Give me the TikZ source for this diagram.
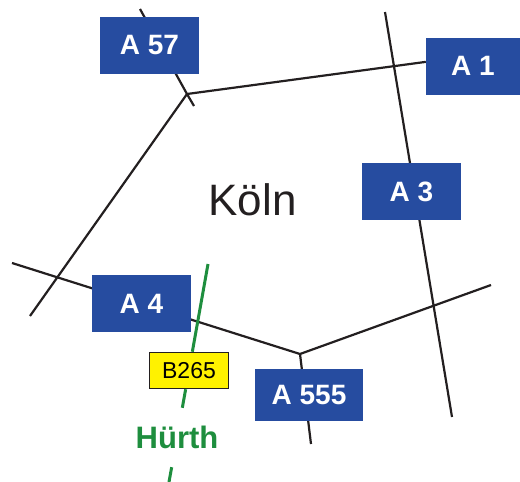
\documentclass[tikz,border=0pt]{standalone}
\usepackage{fontspec}
\setmainfont{Liberation Sans}
\usetikzlibrary{backgrounds}

\definecolor{ablue}{RGB}{38,76,160}
\definecolor{bgreen}{RGB}{30,142,62}
\definecolor{byellow}{RGB}{255,242,0}
\definecolor{roadblack}{RGB}{35,31,32}

\tikzset{
  road/.style={line width=2.2, draw=roadblack},
  broad/.style={line width=3, draw=bgreen},
  abox/.style={fill=ablue, text=white, inner sep=0, minimum width=99,
    minimum height=57, font=\fontsize{28}{30}\selectfont\bfseries},
  bbox/.style={draw=roadblack, line width=1.5, fill=byellow, inner sep=0,
    minimum width=79, minimum height=36, font=\fontsize{23}{25}\selectfont},
  town/.style={text=bgreen, inner sep=0, minimum height=59,
    font=\fontsize{31}{33}\selectfont\bfseries},
  city/.style={text=roadblack, inner sep=0, anchor=base,
    font=\fontsize{44}{46}\selectfont}
}

\begin{document}
\begin{tikzpicture}[x=1pt, y=-1pt]
\useasboundingbox (0,0) rectangle (520,482);

% junctions and road ends
\coordinate (j1) at (187,94);
\coordinate (j2) at (300,354);
\coordinate (a57n) at (140,9);
\coordinate (a57s) at (194,106);
\coordinate (sw) at (30,316);
\coordinate (a3n) at (385,12);
\coordinate (a3s) at (452,417);
\coordinate (a4w) at (12,263);
\coordinate (a4e) at (491,285);
\coordinate (a555s) at (311,444);
\coordinate (b265n) at (208,264);
\coordinate (b265s) at (169,482);

\node[abox] (a57) at (149.5,45.5) {A 57};
\node[abox, minimum width=94] (a1) at (473,66) {A 1};
\node[abox] (a3) at (411.5,191.5) {A 3};
\node[abox] (a4) at (141.5,303.5) {A 4};
\node[abox, minimum width=108, minimum height=52] (a555) at (309,395) {A 555};
\node[bbox] (b265) at (189,370.5) {B265};
\node[town] (hurth) at (177,437.5) {Hürth};
\node[city] (koeln) at (252.5,215) {Köln};

\begin{scope}[on background layer]
\draw[road] (a57n) -- (j1) -- (a57s);
\draw[road] (j1) -- (a1.175);
\draw[road] (j1) -- (sw);
\draw[road] (a3n) -- (a3s);
\draw[road] (a4w) -- (j2) -- (a4e);
\draw[road] (j2) -- (a555s);
\draw[broad] (b265n) -- (b265) -- (hurth) -- (b265s);
\end{scope}
\end{tikzpicture}
\end{document}
